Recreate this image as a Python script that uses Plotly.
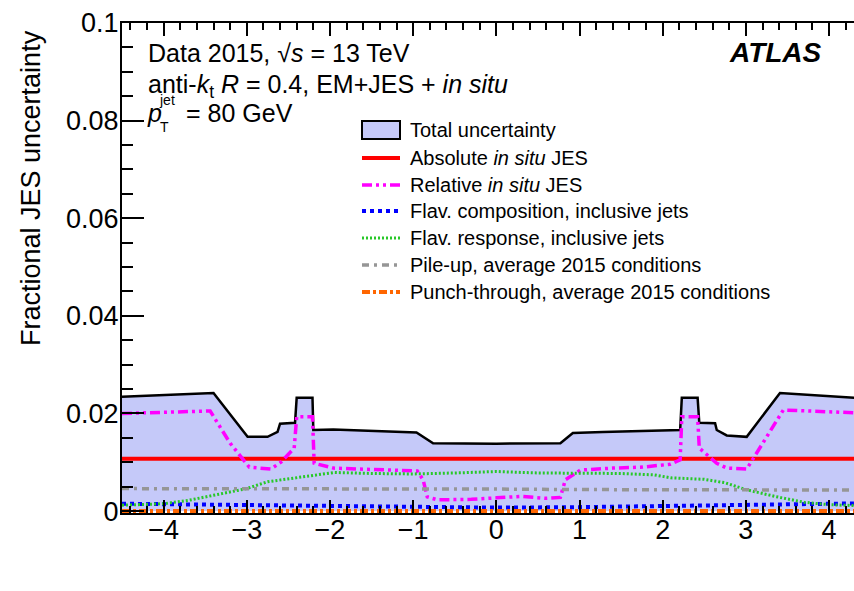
import plotly.graph_objects as go

# ---------------- data ----------------
eta_total = [-4.5, -3.4, -2.99, -2.75, -2.63, -2.60, -2.42, -2.40, -2.21, -2.20,
             -1.96, -1.5, -0.96, -0.76, 0.0, 0.77, 0.92, 1.28, 2.21, 2.23,
             2.42, 2.44, 2.63, 2.65, 2.77, 3.01, 3.41, 4.5]
total_unc = [0.0234, 0.0242, 0.0152, 0.0152, 0.0162, 0.0179, 0.0181, 0.0232, 0.0232, 0.0166,
             0.0167, 0.0164, 0.0161, 0.0139, 0.0138, 0.0139, 0.0160, 0.0162, 0.0166, 0.0232,
             0.0232, 0.0181, 0.0180, 0.0166, 0.0155, 0.0152, 0.0242, 0.0230]

eta_abs = [-4.5, 4.5]
abs_insitu = [0.0107, 0.0107]

eta_rel = [-4.5, -3.44, -3.2, -2.97, -2.71, -2.59, -2.43, -2.40, -2.21, -2.19,
           -1.96, -1.5, -0.95, -0.88, -0.83, -0.71, -0.3, 0.0, 0.3, 0.6,
           0.77, 0.83, 1.01, 1.4, 1.76, 2.09, 2.21, 2.23, 2.42, 2.44,
           2.65, 2.77, 3.01, 3.45, 4.5]
rel_insitu = [0.0200, 0.0205, 0.0139, 0.0090, 0.0086, 0.0100, 0.0129, 0.0193, 0.0193, 0.0098,
              0.0088, 0.0086, 0.0082, 0.0064, 0.0029, 0.0023, 0.0024, 0.0027, 0.0030, 0.0026,
              0.0028, 0.0064, 0.0084, 0.0088, 0.0090, 0.0096, 0.0105, 0.0193, 0.0193, 0.0129,
              0.0098, 0.0088, 0.0086, 0.0207, 0.0200]

eta_comp = [-4.5, -3.0, -2.0, -1.0, 0.0, 1.0, 2.0, 3.0, 4.5]
flav_comp = [0.0015, 0.0012, 0.0010, 0.0008, 0.0007, 0.0008, 0.0010, 0.0012, 0.0016]

eta_resp = [-4.5, -4.0, -3.7, -3.35, -3.0, -2.75, -2.5, -2.2, -1.95, -1.5, -1.0, -0.5,
            0.0, 0.5, 1.0, 1.5, 1.9, 2.1, 2.5, 2.75, 3.0, 3.35, 3.7, 4.0, 4.5]
flav_resp = [0.0012, 0.0015, 0.0022, 0.0034, 0.0046, 0.0060, 0.0066, 0.0072, 0.0079, 0.0077,
             0.0076, 0.0078, 0.0081, 0.0078, 0.0078, 0.0077, 0.0074, 0.0068, 0.0065, 0.0058,
             0.0044, 0.0030, 0.0018, 0.0013, 0.0010]

eta_pu = [-4.5, -3.0, -2.0, -1.0, 0.0, 1.0, 2.0, 3.0, 4.5]
pileup = [0.0046, 0.0046, 0.0045, 0.0045, 0.0045, 0.0044, 0.0044, 0.0043, 0.0043]

eta_pt = [-4.5, 4.5]
punch = [0.0, 0.0]

legend_names = ["Total uncertainty",
                "Absolute <i>in situ</i> JES",
                "Relative <i>in situ</i> JES",
                "Flav. composition, inclusive jets",
                "Flav. response, inclusive jets",
                "Pile-up, average 2015 conditions",
                "Punch-through, average 2015 conditions"]

x_ticks = [-4, -3, -2, -1, 0, 1, 2, 3, 4]
y_ticks = [0, 0.02, 0.04, 0.06, 0.08, 0.1]
y_tick_text = ["0", "0.02", "0.04", "0.06", "0.08", "0.1"]

# ---------------- styles ----------------
FONT = "Liberation Sans, Arial, Helvetica, sans-serif"
FILL = "rgb(197,201,249)"
styles = [
    dict(color="black", width=2.5, dash="solid"),
    dict(color="rgb(255,0,0)", width=4, dash="solid"),
    dict(color="rgb(255,0,255)", width=3.5, dash="10px,4px,3px,4px,3px,4px"),
    dict(color="rgb(0,0,255)", width=4, dash="4px,4px"),
    dict(color="rgb(40,200,40)", width=3, dash="2px,2px"),
    dict(color="rgb(150,150,150)", width=3.5, dash="7px,5px,3px,5px"),
    dict(color="rgb(255,102,0)", width=4, dash="8px,3px,3px,3px"),
]

W, H = 854, 591
L, R, T, B = 122, 0, 23, 78
PW, PH = W - L - R, H - T - B


def pxx(x):
    return (x - L) / PW


def pxy(y):
    return (H - B - y) / PH


fig = go.Figure()
fig.add_trace(go.Scatter(x=eta_total, y=total_unc, mode="lines", fill="tozeroy",
                         fillcolor=FILL, line=dict(color="black", width=2.5),
                         showlegend=False, name=legend_names[0]))
series = [(eta_abs, abs_insitu), (eta_rel, rel_insitu), (eta_comp, flav_comp),
          (eta_resp, flav_resp), (eta_pu, pileup), (eta_pt, punch)]
for i, (xs, ys) in enumerate(series):
    fig.add_trace(go.Scatter(x=xs, y=ys, mode="lines", line=styles[i + 1],
                             showlegend=False, name=legend_names[i + 1]))

# ---------------- custom legend ----------------
shapes = []
annotations = []
row_y = [130, 158, 185, 211, 238, 265, 292]
sx0, sx1, tx = 362, 400, 408
for i, name in enumerate(legend_names):
    yc = row_y[i]
    if i == 0:
        shapes.append(dict(type="rect", xref="paper", yref="paper",
                           x0=pxx(sx0), x1=pxx(sx1), y0=pxy(yc + 9), y1=pxy(yc - 9),
                           fillcolor=FILL, line=dict(color="black", width=2)))
    else:
        st = styles[i]
        shapes.append(dict(type="line", xref="paper", yref="paper",
                           x0=pxx(sx0), x1=pxx(sx1), y0=pxy(yc), y1=pxy(yc),
                           line=dict(color=st["color"], width=st["width"], dash=st["dash"])))
    annotations.append(dict(text=name, xref="paper", yref="paper", x=pxx(tx), y=pxy(yc),
                            xanchor="left", yanchor="middle", showarrow=False,
                            font=dict(family=FONT, size=20, color="black")))

# ---------------- labels ----------------
def txt(text, x, y, size, xanchor="left"):
    annotations.append(dict(text=text, xref="paper", yref="paper", x=pxx(x), y=pxy(y),
                            xanchor=xanchor, yanchor="middle", showarrow=False,
                            borderpad=0,
                            font=dict(family=FONT, size=size, color="black")))


txt("Data 2015, √<i>s</i> = 13 TeV", 147, 53, 25)
txt("anti-<i>k</i><sub>t</sub> <i>R</i> = 0.4, EM+JES + <i>in situ</i>", 147, 86, 25)
txt("<i>p</i>", 146, 113, 25)
txt("jet", 158, 100, 14)
txt("T", 159, 127, 14)
txt("= 80 GeV", 185, 113, 25)
txt("<b><i>ATLAS</i></b>", 775, 53, 28, xanchor="center")

annotations.append(dict(text="Fractional JES uncertainty", xref="paper", yref="paper",
                        x=pxx(31), y=pxy(28), xanchor="center", yanchor="top",
                        textangle=-90, showarrow=False,
                        font=dict(family=FONT, size=27, color="black")))

fig.update_layout(
    width=W, height=H, margin=dict(l=L, r=R, t=T, b=B, pad=0),
    paper_bgcolor="white", plot_bgcolor="white",
    font=dict(family=FONT, size=27, color="black"),
    shapes=shapes, annotations=annotations,
    xaxis=dict(range=[-4.5, 4.3], tickvals=x_ticks, ticks="inside", ticklen=13,
               tickwidth=1.5, tickcolor="black", showline=True, linecolor="black",
               linewidth=2, mirror="allticks", showgrid=False, zeroline=False,
               tickfont=dict(size=27), ticklabelstandoff=-8,
               minor=dict(dtick=0.2, tick0=0, ticks="inside", ticklen=7,
                          tickwidth=1.5, tickcolor="black", showgrid=False)),
    yaxis=dict(range=[-0.0004, 0.1], tickvals=y_ticks, ticktext=y_tick_text,
               ticks="inside", ticklen=22, tickwidth=1.5, tickcolor="black",
               showline=True, linecolor="black", linewidth=2, mirror=False,
               showgrid=False, zeroline=False, tickfont=dict(size=27),
               ticklabelstandoff=-4,
               minor=dict(dtick=0.005, tick0=0, ticks="inside", ticklen=11,
                          tickwidth=1.5, tickcolor="black", showgrid=False)),
    yaxis2=dict(range=[-0.0004, 0.1], overlaying="y", side="right", tickvals=y_ticks,
                ticks="inside", ticklen=4, tickwidth=1.5, tickcolor="black",
                showticklabels=False, showline=False, showgrid=False, zeroline=False),
)

fig.write_html("out.html")
